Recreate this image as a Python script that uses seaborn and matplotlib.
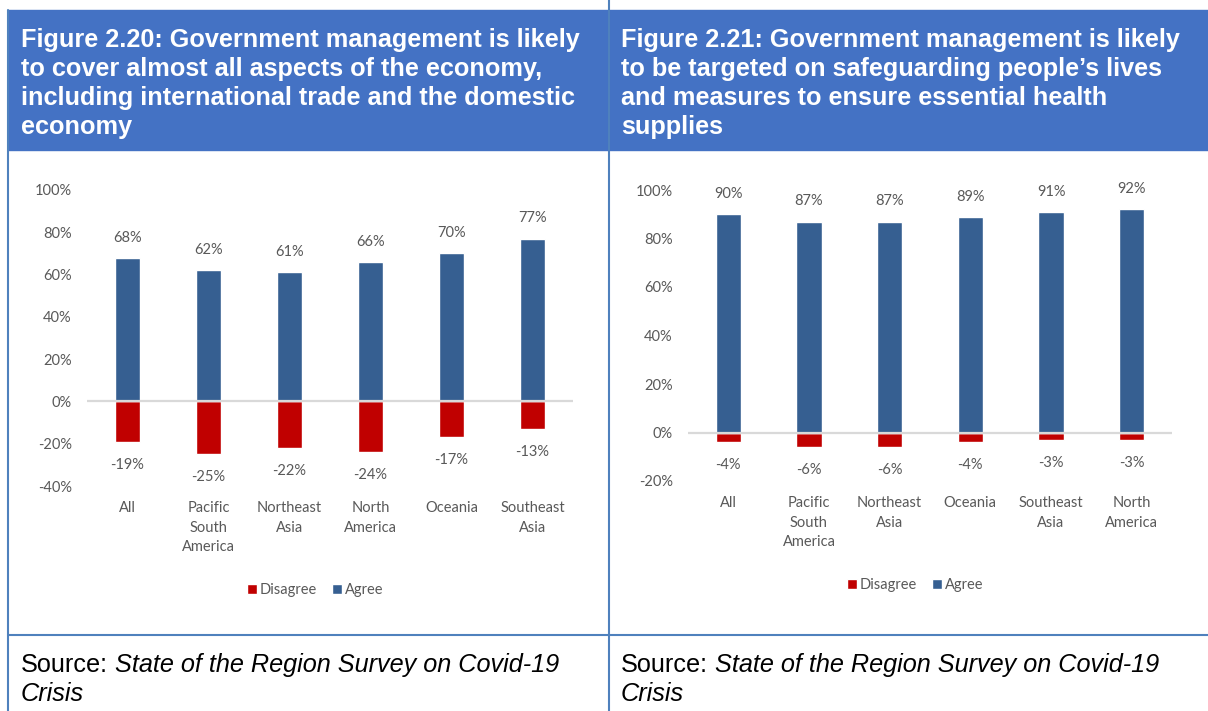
# -*- coding: utf-8 -*-

# %% import functions
import numpy as np
import pandas as pd
import matplotlib.pyplot as plt
import seaborn as sns
from matplotlib.patches import Rectangle
from matplotlib.lines import Line2D

# %% data
regions_l = ['All', 'Pacific\nSouth\nAmerica', 'Northeast\nAsia', 'North\nAmerica', 'Oceania', 'Southeast\nAsia']
agree_l = [68, 62, 61, 66, 70, 77]
disagree_l = [-19, -25, -22, -24, -17, -13]

regions_r = ['All', 'Pacific\nSouth\nAmerica', 'Northeast\nAsia', 'Oceania', 'Southeast\nAsia', 'North\nAmerica']
agree_r = [90, 87, 87, 89, 91, 92]
disagree_r = [-4, -6, -6, -4, -3, -3]

yticks_l = [-40, -20, 0, 20, 40, 60, 80, 100]
yticks_r = [-20, 0, 20, 40, 60, 80, 100]

title_l = ['Figure 2.20: Government management is likely',
           'to cover almost all aspects of the economy,',
           'including international trade and the domestic',
           'economy']
title_r = ['Figure 2.21: Government management is likely',
           'to be targeted on safeguarding people\u2019s lives',
           'and measures to ensure essential health',
           'supplies']
source_label = 'Source:'
source_title = ['State of the Region Survey on Covid-19', 'Crisis']

palette = {'Disagree': '#C00000', 'Agree': '#365F91'}
grey = '#595959'
W, H = 1208, 711

sns.set_style('white')
plt.rcParams['font.family'] = ['Lato', 'DejaVu Sans']


def fx(x):
    return x / W


def fy(y):
    return 1 - y / H


def make_df(regions, agree, disagree):
    return pd.DataFrame({'region': list(regions) * 2,
                         'response': ['Disagree'] * len(regions) + ['Agree'] * len(regions),
                         'value': list(disagree) + list(agree)})


def draw_panel(ax, regions, agree, disagree, yticks):
    df = make_df(regions, agree, disagree)
    sns.barplot(data=df, x='region', y='value', hue='response', order=regions,
                hue_order=['Disagree', 'Agree'], palette=palette, dodge=False,
                width=0.31, saturation=1, errorbar=None, ax=ax)
    ax.axhline(0, color='#D9D9D9', lw=1.6, zorder=5)
    for i, v in enumerate(agree):
        ax.annotate('{}%'.format(v), (i, v), xytext=(0, 14.5), textcoords='offset points',
                    ha='center', va='center', fontsize=10.5, color=grey)
    for i, v in enumerate(disagree):
        ax.annotate('{}%'.format(v), (i, v), xytext=(0, -16.5), textcoords='offset points',
                    ha='center', va='center', fontsize=10.5, color=grey)
    ax.set_ylim(yticks[0], yticks[-1])
    ax.set_xlim(-0.5, len(regions) - 0.5)
    ax.set_yticks(yticks)
    ax.set_yticklabels(['{}%'.format(t) for t in yticks])
    ax.tick_params(axis='y', length=0, pad=11, labelsize=10.5, labelcolor=grey)
    ax.tick_params(axis='x', length=0, pad=11, labelsize=10.5, labelcolor=grey)
    for lab in ax.get_xticklabels():
        lab.set_linespacing(1.5)
    ax.set_xlabel('')
    ax.set_ylabel('')
    sns.despine(ax=ax, left=True, bottom=True)
    handles, labels = ax.get_legend_handles_labels()
    ax.get_legend().remove()
    return handles, labels


fig = plt.figure(figsize=(W / 100, H / 100), dpi=100)

# header boxes
for x0, x1 in [(8, 609), (609, 1208)]:
    fig.patches.append(Rectangle((fx(x0), fy(150)), (x1 - x0) / W, 140 / H,
                                 transform=fig.transFigure, color='#4472C4', zorder=0))

# table borders
border = '#4F81BD'
for xs, ys in [([8, 8], [10, 711]), ([609, 609], [0, 711]), ([8, 1208], [635, 635])]:
    fig.add_artist(Line2D([fx(v) for v in xs], [fy(v) for v in ys], color=border, lw=1.5,
                          transform=fig.transFigure))

ax1 = fig.add_axes([fx(87), fy(486), 486 / W, 296 / H])
ax2 = fig.add_axes([fx(688), fy(481), 484 / W, 291 / H])

h1, l1 = draw_panel(ax1, regions_l, agree_l, disagree_l, yticks_l)
h2, l2 = draw_panel(ax2, regions_r, agree_r, disagree_r, yticks_r)

for h, l, cx, cy in [(h1, l1, 315, 590), (h2, l2, 915, 585)]:
    fig.legend(h, l, loc='center', bbox_to_anchor=(fx(cx), fy(cy)), ncol=2, frameon=False,
               fontsize=10.5, labelcolor=grey, handlelength=0.7, handleheight=0.7,
               handletextpad=0.2, columnspacing=1.0)

# header titles
for x0, lines in [(21, title_l), (621, title_r)]:
    for k, line in enumerate(lines):
        fig.text(fx(x0), fy(47.5 + k * 28.8), line, color='white', fontweight='bold',
                 fontsize=18.2, family='Liberation Sans', va='baseline')

# source rows
fig.canvas.draw()
renderer = fig.canvas.get_renderer()
for x0 in [21, 621]:
    t = fig.text(fx(x0), fy(672), source_label, fontsize=18.2, family='Liberation Sans',
                 va='baseline', color='black')
    bb = t.get_window_extent(renderer)
    fig.text(fx(x0 + bb.width + 7), fy(672), source_title[0], fontsize=18.2,
             family='Liberation Sans', style='italic', va='baseline', color='black')
    fig.text(fx(x0), fy(701), source_title[1], fontsize=18.2, family='Liberation Sans',
             style='italic', va='baseline', color='black')

fig.savefig('out.png', dpi=100)
